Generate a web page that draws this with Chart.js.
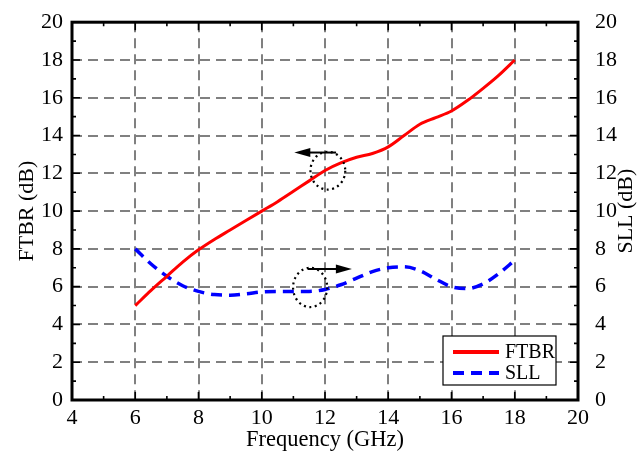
<!DOCTYPE html>
<html>
<head>
<meta charset="utf-8">
<script src="https://cdn.jsdelivr.net/npm/chart.js@4"></script>
<style>
  html, body { margin: 0; padding: 0; background: #fff; }
  #wrap { width: 643px; height: 459px; }
</style>
</head>
<body>
<div id="wrap"><canvas id="chart" width="643" height="459"></canvas></div>
<script>
// values
const freq = [6, 6.5, 7, 7.5, 8, 8.5, 9, 9.5, 10, 10.5, 11, 11.5, 12, 12.5, 13, 13.5, 14, 14.5, 15, 15.5, 16, 16.5, 17, 17.5, 18];
const ftbr = [5.0, 5.8, 6.55, 7.3, 7.95, 8.5, 9.0, 9.5, 10.0, 10.5, 11.05, 11.6, 12.15, 12.55, 12.85, 13.05, 13.4, 14.0, 14.6, 14.95, 15.3, 15.85, 16.5, 17.2, 18.0];
const sll = [8.0, 7.2, 6.55, 6.05, 5.75, 5.58, 5.55, 5.62, 5.72, 5.75, 5.75, 5.75, 5.85, 6.1, 6.45, 6.8, 7.0, 7.05, 6.85, 6.4, 6.0, 5.9, 6.15, 6.7, 7.4];
const xTicks = [4, 6, 8, 10, 12, 14, 16, 18, 20];
const yTicks = [0, 2, 4, 6, 8, 10, 12, 14, 16, 18, 20];
const leftTitle = 'FTBR (dB)';
const rightTitle = 'SLL (dB)';

const serif = "'Liberation Serif', 'Times New Roman', serif";

// frame, inside ticks, y titles, circles with arrows, legend box
const decor = {
  id: 'decor',
  afterDraw(chart) {
    const c = chart.ctx, a = chart.chartArea;
    const sx = chart.scales.x, sy = chart.scales.y;
    c.save();
    c.strokeStyle = '#000';
    c.lineWidth = 1.6;
    // minor + major ticks, pointing inward
    for (let v = 4; v <= 20; v++) {
      const px = sx.getPixelForValue(v), len = v % 2 === 0 ? 8 : 4;
      c.beginPath();
      c.moveTo(px, a.bottom); c.lineTo(px, a.bottom - len);
      c.moveTo(px, a.top); c.lineTo(px, a.top + len);
      c.stroke();
    }
    for (let v = 0; v <= 20; v++) {
      const py = sy.getPixelForValue(v), len = v % 2 === 0 ? 8 : 4;
      c.beginPath();
      c.moveTo(a.left, py); c.lineTo(a.left + len, py);
      c.moveTo(a.right, py); c.lineTo(a.right - len, py);
      c.stroke();
    }
    c.lineWidth = 3;
    c.strokeRect(a.left, a.top, a.right - a.left, a.bottom - a.top);

    // both y titles read bottom to top
    c.fillStyle = '#000';
    c.font = '22px ' + serif;
    c.textAlign = 'center';
    c.textBaseline = 'middle';
    const midY = (a.top + a.bottom) / 2;
    [[27, leftTitle], [626, rightTitle]].forEach(([tx, t]) => {
      c.save();
      c.translate(tx, midY);
      c.rotate(-Math.PI / 2);
      c.fillText(t, 0, 0);
      c.restore();
    });

    // dotted ellipses and arrows
    const ell = (cx, cy, rx, ry) => {
      c.save();
      c.setLineDash([2, 3.5]);
      c.lineWidth = 2.2;
      c.beginPath();
      const px = sx.getPixelForValue(cx), py = sy.getPixelForValue(cy);
      const rpx = Math.abs(sx.getPixelForValue(cx + rx) - px);
      const rpy = Math.abs(sy.getPixelForValue(cy + ry) - py);
      c.ellipse(px, py, rpx, rpy, 0, 0, Math.PI * 2);
      c.stroke();
      c.restore();
    };
    const arrow = (x0, x1, yv) => {
      const p0 = sx.getPixelForValue(x0), p1 = sx.getPixelForValue(x1), py = sy.getPixelForValue(yv);
      const dir = Math.sign(p1 - p0);
      c.lineWidth = 2;
      c.beginPath();
      c.moveTo(p0, py); c.lineTo(p1 - dir * 12, py);
      c.stroke();
      c.fillStyle = '#000';
      c.beginPath();
      c.moveTo(p1, py);
      c.lineTo(p1 - dir * 16, py - 4.5);
      c.lineTo(p1 - dir * 16, py + 4.5);
      c.closePath();
      c.fill();
    };
    ell(12.09, 12.14, 0.55, 1.0);
    arrow(12.35, 11.03, 13.1);
    ell(11.53, 5.96, 0.54, 1.04);
    arrow(11.45, 12.85, 6.94);

    // legend
    const lx = 443, ly = 336, lw = 113, lh = 49;
    c.fillStyle = '#fff';
    c.fillRect(lx, ly, lw, lh);
    c.lineWidth = 1.2;
    c.strokeRect(lx, ly, lw, lh);
    chart.data.datasets.forEach((d, i) => {
      const yy = ly + 16 + i * 21;
      c.save();
      c.strokeStyle = d.borderColor;
      c.lineWidth = 4;
      c.setLineDash(d.borderDash || []);
      c.beginPath();
      c.moveTo(lx + 10, yy); c.lineTo(lx + 56, yy);
      c.stroke();
      c.restore();
      c.fillStyle = '#000';
      c.font = '20px ' + serif;
      c.textAlign = 'left';
      c.textBaseline = 'middle';
      c.fillText(d.label, lx + 62, yy + 1);
    });
    c.restore();
  }
};

const tickFont = { family: serif, size: 22 };

new Chart(document.getElementById('chart'), {
  type: 'line',
  data: {
    datasets: [
      {
        label: 'FTBR',
        data: freq.map((f, i) => ({ x: f, y: ftbr[i] })),
        borderColor: '#ff0000',
        borderWidth: 3,
        pointRadius: 0,
        cubicInterpolationMode: 'monotone',
        yAxisID: 'y'
      },
      {
        label: 'SLL',
        data: freq.map((f, i) => ({ x: f, y: sll[i] })),
        borderColor: '#0000ff',
        borderWidth: 3.5,
        borderDash: [11, 7],
        pointRadius: 0,
        cubicInterpolationMode: 'monotone',
        yAxisID: 'y2'
      }
    ]
  },
  options: {
    responsive: false,
    animation: false,
    layout: { padding: { top: 20, left: 0, right: 0, bottom: 0 } },
    plugins: { legend: { display: false }, tooltip: { enabled: false } },
    scales: {
      x: {
        type: 'linear', min: 4, max: 20,
        afterBuildTicks: s => { s.ticks = xTicks.map(v => ({ value: v })); },
        afterFit: s => { s.height = 59; },
        grid: { color: '#808080', lineWidth: 2, drawTicks: false },
        border: { display: false, dash: [10, 6] },
        ticks: { color: '#000', font: tickFont, padding: 5, maxRotation: 0 },
        title: { display: true, text: 'Frequency (GHz)', color: '#000', font: { family: serif, size: 22.5 }, padding: { top: 0, bottom: 5 } }
      },
      y: {
        position: 'left', min: 0, max: 20,
        afterBuildTicks: s => { s.ticks = yTicks.map(v => ({ value: v })); },
        afterFit: s => { s.width = 72; },
        grid: { color: '#808080', lineWidth: 2, drawTicks: false },
        border: { display: false, dash: [10, 6] },
        ticks: { color: '#000', font: tickFont, padding: 9 }
      },
      y2: {
        position: 'right', min: 0, max: 20,
        afterBuildTicks: s => { s.ticks = yTicks.map(v => ({ value: v })); },
        afterFit: s => { s.width = 65; },
        grid: { display: false },
        border: { display: false },
        ticks: { color: '#000', font: tickFont, padding: 9 }
      }
    }
  },
  plugins: [decor]
});
</script>
</body>
</html>
